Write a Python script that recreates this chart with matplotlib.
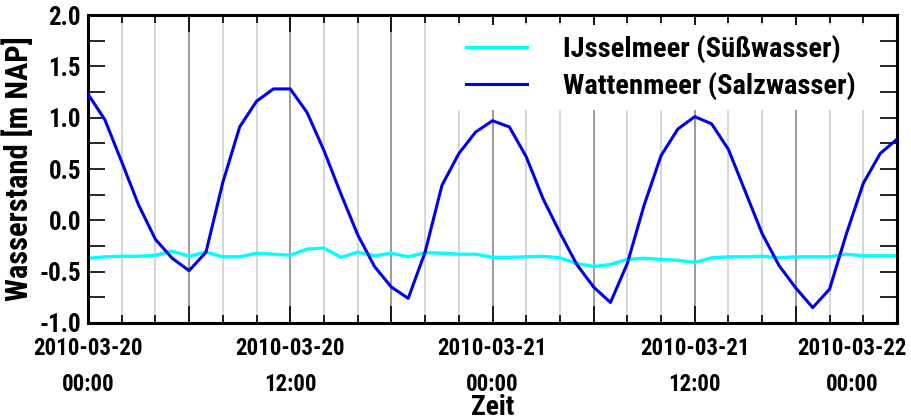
import matplotlib
matplotlib.use("Agg")
import matplotlib.pyplot as plt
import matplotlib.dates as mdates
import matplotlib.transforms as mtransforms
import numpy as np
import pandas as pd

# hourly water levels, 2010-03-20 00:00 .. 2010-03-22 00:00
times = pd.date_range("2010-03-20 00:00", periods=49, freq="h")

ijsselmeer = [-0.37, -0.355, -0.35, -0.35, -0.34, -0.30, -0.35, -0.31, -0.355, -0.355,
              -0.32, -0.33, -0.34, -0.28, -0.27, -0.36, -0.31, -0.345, -0.32, -0.355,
              -0.315, -0.32, -0.33, -0.33, -0.36, -0.36, -0.355, -0.35, -0.365, -0.42,
              -0.45, -0.43, -0.38, -0.37, -0.38, -0.39, -0.41, -0.365, -0.355, -0.355,
              -0.35, -0.365, -0.355, -0.355, -0.355, -0.33, -0.345, -0.345, -0.345]

wattenmeer = [1.23, 0.98, 0.57, 0.15, -0.185, -0.37, -0.49, -0.31, 0.37, 0.91,
              1.16, 1.28, 1.28, 1.05, 0.68, 0.26, -0.14, -0.45, -0.65, -0.76,
              -0.31, 0.34, 0.65, 0.86, 0.97, 0.91, 0.62, 0.21, -0.12, -0.43,
              -0.65, -0.80, -0.42, 0.15, 0.63, 0.89, 1.01, 0.94, 0.69, 0.28,
              -0.13, -0.44, -0.66, -0.85, -0.67, -0.13, 0.36, 0.65, 0.79]

labels = ["IJsselmeer (Süßwasser)", "Wattenmeer (Salzwasser)"]
tick_times = pd.date_range("2010-03-20 00:00", periods=5, freq="12h")
tick_labels = ["2010-03-20\n00:00", "2010-03-20\n12:00", "2010-03-21\n00:00",
               "2010-03-21\n12:00", "2010-03-22\n00:00"]

plt.rcParams['font.family'] = ['Roboto Condensed', 'Liberation Sans Narrow', 'Liberation Sans', 'DejaVu Sans']
plt.rcParams['font.weight'] = 'bold'
plt.rcParams['axes.labelweight'] = 'bold'

fig = plt.figure(figsize=(9.11, 4.2), dpi=100)
ax = fig.add_axes([88 / 911, 1 - 323 / 420, 809 / 911, 308 / 420])

# vertical grid: light every 2 h, darker every 6 h
for t in pd.date_range(times[0], times[-1], freq="2h"):
    dark = (t.hour % 6 == 0)
    ax.axvline(t, color='#8a8a8a' if dark else '#d0d0d0', lw=1.2, zorder=0)

ax.plot(times, ijsselmeer, color='#00ffff', lw=2.4, label=labels[0], zorder=2)
ax.plot(times, wattenmeer, color='#0000f0', lw=2.2, label=labels[1], zorder=3)

ax.set_xlim(times[0], times[-1])
ax.set_ylim(-1.0, 2.0)
ax.set_yticks(np.arange(-1.0, 2.01, 0.5))
ax.set_yticks(np.arange(-1.0, 2.01, 0.25), minor=True)
ax.set_yticklabels([f"{v:.1f}" for v in np.arange(-1.0, 2.01, 0.5)])

ax.set_xticks(pd.date_range(times[0], times[-1], freq="6h"))
ax.set_xticks(pd.date_range(times[0], times[-1], freq="2h"), minor=True)
ax.set_xticklabels([])
for t, lab in zip(tick_times, tick_labels):
    ax.text(mdates.date2num(t), -1.0, lab, ha='center', va='top',
            fontsize=16.5, linespacing=1.7,
            transform=ax.transData + mtransforms.ScaledTranslation(0, -0.14, fig.dpi_scale_trans))
# last label is pulled inside the figure
ax.texts[-1].set_transform(ax.transData + mtransforms.ScaledTranslation(-0.45, -0.14, fig.dpi_scale_trans))

ax.tick_params(axis='both', which='both', direction='in', top=True, right=True, width=1.2)
ax.tick_params(axis='y', which='both', length=12, labelsize=18, pad=5)
ax.tick_params(axis='x', which='major', length=12)
ax.tick_params(axis='x', which='minor', length=6)
for s in ax.spines.values():
    s.set_linewidth(2.2)

ax.set_ylabel("Wasserstand [m NAP]", fontsize=22, labelpad=4)
fig.text(492.5 / 911, -0.002, "Zeit", ha='center', va='bottom', fontsize=20)

leg = ax.legend(loc='upper left', bbox_to_anchor=(0.455, 0.967), frameon=True,
                facecolor='white', edgecolor='none', framealpha=1, fancybox=False,
                fontsize=20.5, handlelength=2.15, handletextpad=1.25, borderaxespad=0,
                borderpad=0.35, labelspacing=0.3)

fig.savefig("out.png", dpi=100)
